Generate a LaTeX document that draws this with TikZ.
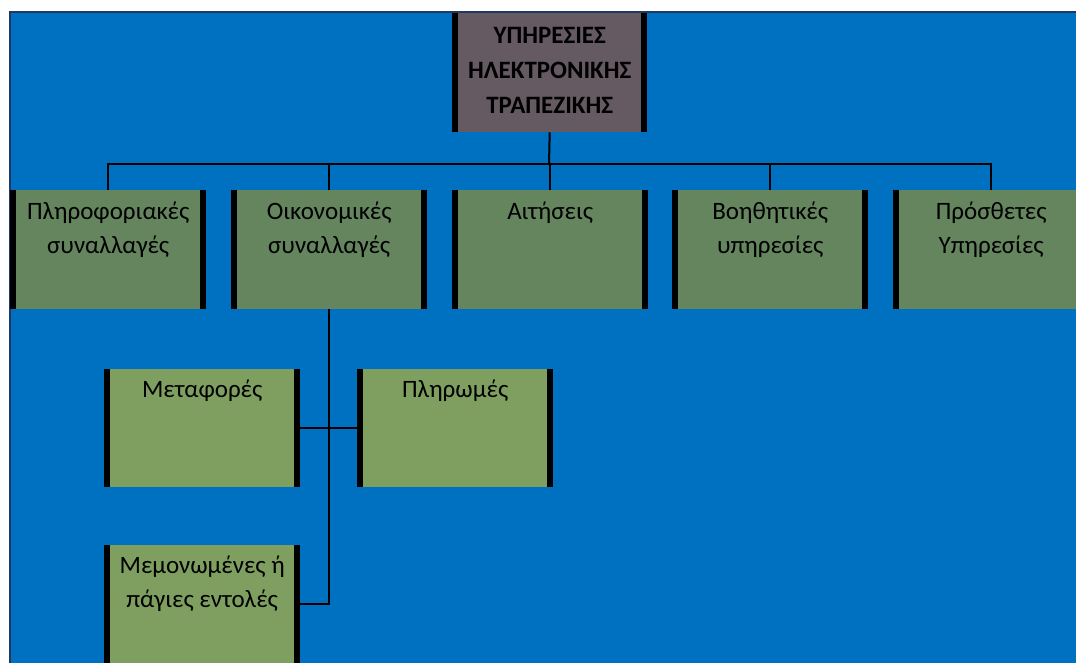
\documentclass[tikz,border=0pt]{standalone}
\usepackage{fontspec}
\setmainfont{Carlito}
\definecolor{bgblue}{RGB}{0,112,192}
\definecolor{navy}{RGB}{31,56,100}
\definecolor{topfill}{RGB}{101,90,98}
\definecolor{lvtwo}{RGB}{100,133,94}
\definecolor{lvthree}{RGB}{127,159,96}
\tikzset{
  x=1pt, y=-1pt,
  box/.style={anchor=north west, minimum width=196pt, minimum height=119pt, inner sep=0pt,
    path picture={
      \fill[black] (path picture bounding box.north west) rectangle ([xshift=6pt]path picture bounding box.south west);
      \fill[black] (path picture bounding box.north east) rectangle ([xshift=-6pt]path picture bounding box.south east);
    }},
  topbox/.style={box, fill=topfill, minimum width=195pt},
  lvtwobox/.style={box, fill=lvtwo},
  lvthreebox/.style={box, fill=lvthree, minimum height=118pt},
  txt/.style={anchor=north, inner sep=0pt, align=center, font=\fontsize{25}{34}\selectfont},
  toptxt/.style={anchor=north, inner sep=0pt, align=center, font=\fontsize{25}{35}\selectfont\bfseries},
  conn/.style={draw=black, line width=2pt},
}
\begin{document}
\begin{tikzpicture}
\useasboundingbox (0,0) rectangle (1076,662);
\clip (0,0) rectangle (1076,662);
\fill[white] (0,0) rectangle (1076,662);
\fill[bgblue] (10,12) rectangle (1080,670);
\draw[navy, line width=2pt] (10,670) -- (10,12) -- (1080,12);

\node[topbox] (top) at (452,13) {};
\node[toptxt] (toptext) at ([yshift=-14pt]top.north) {ΥΠΗΡΕΣΙΕΣ\\ΗΛΕΚΤΡΟΝΙΚΗΣ\\ΤΡΑΠΕΖΙΚΗΣ};

\node[lvtwobox] (b1) at (10,190) {};
\node[lvtwobox] (b2) at (231,190) {};
\node[lvtwobox] (b3) at (452,190) {};
\node[lvtwobox] (b4) at (672,190) {};
\node[lvtwobox] (b5) at (893,190) {};
\node[txt] (t1) at ([yshift=-12pt]b1.north) {Πληροφοριακές\\συναλλαγές};
\node[txt] (t2) at ([yshift=-12pt]b2.north) {Οικονομικές\\συναλλαγές};
\node[txt] (t3) at ([yshift=-12pt]b3.north) {Αιτήσεις};
\node[txt] (t4) at ([yshift=-12pt]b4.north) {Βοηθητικές\\υπηρεσίες};
\node[txt] (t5) at ([yshift=-12pt]b5.north) {Πρόσθετες\\Υπηρεσίες};

\node[lvthreebox] (met) at (104,369) {};
\node[lvthreebox] (pay) at (357,369) {};
\node[lvthreebox] (mem) at (104,545) {};
\node[txt] (tm) at ([yshift=-11pt]met.north) {Μεταφορές};
\node[txt] (tp) at ([yshift=-11pt]pay.north) {Πληρωμές};
\node[txt] (tmm) at ([yshift=-11pt]mem.north) {Μεμονωμένες ή\\πάγιες εντολές};

\coordinate (bus) at (549,164);
\draw[conn] (top.south) -- (bus);
\draw[conn] (b1.north) -- (b1.north |- bus) -- (b5.north |- bus) -- (b5.north);
\draw[conn] (b2.north) -- (b2.north |- bus);
\draw[conn] (b3.north) -- (b3.north |- bus);
\draw[conn] (b4.north) -- (b4.north |- bus);
\draw[conn] (b2.south) -- (b2.south |- mem.east) -- (mem.east);
\draw[conn] (met.east) -- (pay.west);
\end{tikzpicture}
\end{document}
